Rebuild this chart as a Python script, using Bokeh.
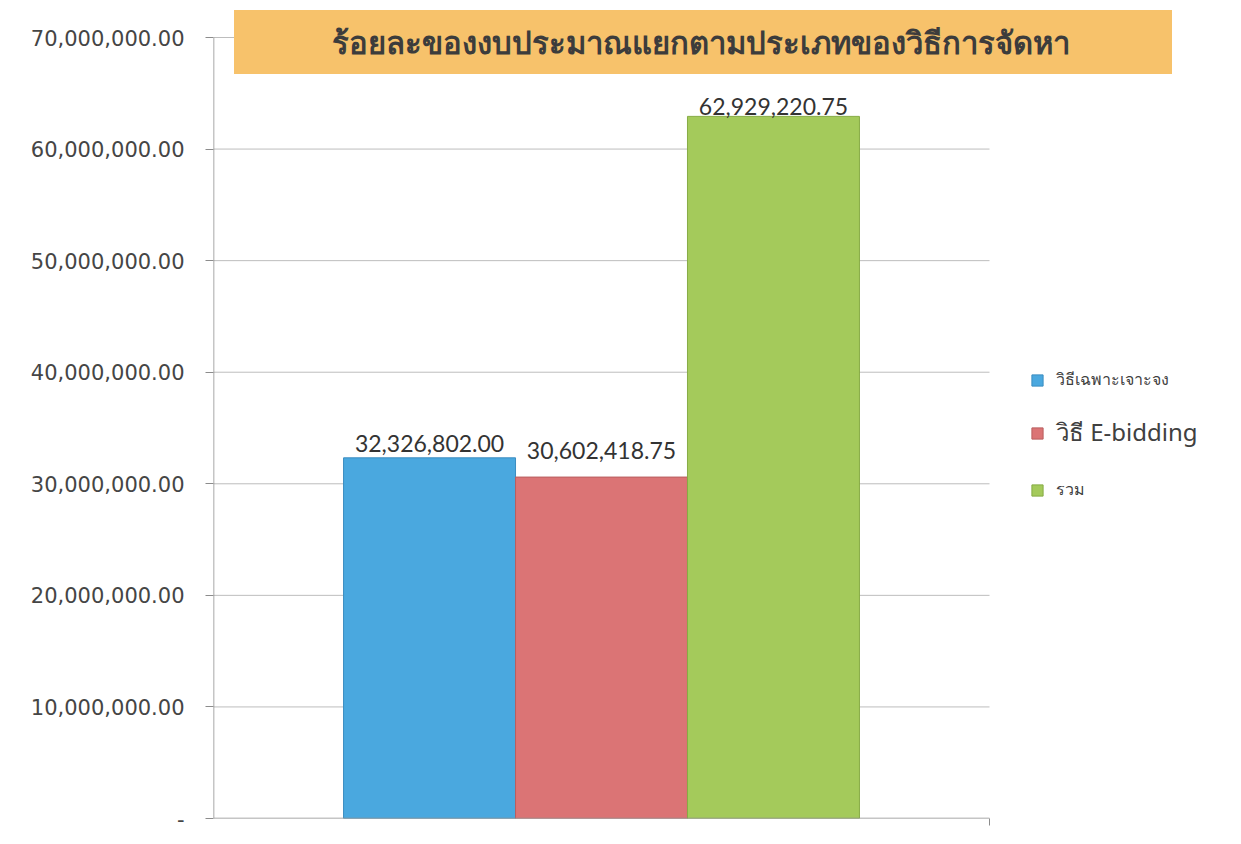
from bokeh.plotting import figure
from bokeh.models import (Range1d, FixedTicker, Label, Legend, LegendItem,
                          ColumnDataSource)
from bokeh.core.properties import value
from bokeh.embed import file_html
from bokeh.resources import INLINE

# ---- data ----
chart_title = "ร้อยละของงบประมาณแยกตามประเภทของวิธีการจัดหา"
series_names = ["วิธีเฉพาะเจาะจง", "วิธี E-bidding", "รวม"]
amounts = [32326802.00, 30602418.75, 62929220.75]
amount_labels = ["32,326,802.00", "30,602,418.75", "62,929,220.75"]
y_ticks = [0, 10000000, 20000000, 30000000, 40000000, 50000000, 60000000, 70000000]
y_tick_labels = ["-", "10,000,000.00", "20,000,000.00", "30,000,000.00",
                 "40,000,000.00", "50,000,000.00", "60,000,000.00", "70,000,000.00"]
y_max = 70000000

# ---- style / layout ----
bar_colors = ["#4aa8df", "#db7475", "#a4ca5b"]
bar_edges = ["#3b8dc0", "#b95e5f", "#86ab44"]
label_lift = [-14, -27, -10]
legend_font_sizes = ["16px", "24px", "16px"]
bar_width = 0.2216

W, H = 1233, 836
plot_left, plot_right, plot_top, plot_bottom = 213, 989, 37, 818   # axis area (px)
frame_left, frame_right, frame_top, frame_bottom = 213, 1230, 8, 818
x_end = (frame_right - frame_left) / (plot_right - plot_left)
y_end = y_max * (frame_bottom - frame_top) / (plot_bottom - plot_top)

p = figure(width=W, height=H, output_backend="svg", toolbar_location=None,
           x_range=Range1d(0, x_end), y_range=Range1d(0, y_end),
           min_border_left=frame_left, min_border_right=W - frame_right,
           min_border_top=frame_top, min_border_bottom=H - frame_bottom,
           background_fill_color="white", border_fill_color="white",
           outline_line_color=None)

# gridlines (only across the plot area)
grid_vals = [t for t in y_ticks if t > 0]
p.segment(x0=[0] * len(grid_vals), x1=[1] * len(grid_vals), y0=grid_vals, y1=grid_vals,
          line_color="#bdbdbd", line_width=1)

xs = [0.5 + (i - 1) * bar_width for i in range(len(amounts))]
src = ColumnDataSource(dict(x=xs, top=amounts, color=bar_colors, edge=bar_edges,
                            lab=amount_labels, lift=label_lift))
bars = p.vbar(x="x", top="top", width=bar_width, bottom=0, source=src,
              fill_color="color", line_color="edge", line_width=1)

# axis lines limited to plot area
p.segment(x0=[0], x1=[1], y0=[0], y1=[0], line_color="#8c8c8c", line_width=1.5)
p.segment(x0=[0], x1=[0], y0=[0], y1=[y_max], line_color="#8c8c8c", line_width=1.5)

p.text(x="x", y="top", text="lab", source=src, y_offset="lift",
       text_align="center", text_baseline="middle",
       text_font=value("Lato"), text_font_size="23px", text_color="#333333")

# axes
p.yaxis.ticker = FixedTicker(ticks=y_ticks)
p.yaxis.major_label_overrides = {t: l for t, l in zip(y_ticks, y_tick_labels)}
p.yaxis.major_label_text_font = "DejaVu Sans"
p.yaxis.major_label_text_font_size = "21px"
p.yaxis.major_label_text_color = "#454545"
p.yaxis.major_label_standoff = 21
p.yaxis.major_tick_out = 8
p.yaxis.major_tick_in = 0
p.yaxis.minor_tick_out = 0
p.yaxis.minor_tick_in = 0
p.yaxis.axis_line_color = None
p.yaxis.major_tick_line_color = "#8c8c8c"

p.xaxis.ticker = FixedTicker(ticks=[1])
p.xaxis.major_label_text_color = None
p.xaxis.major_label_standoff = 0
p.xaxis.major_tick_out = 7
p.xaxis.major_tick_in = 0
p.xaxis.minor_tick_out = 0
p.xaxis.axis_line_color = None
p.xaxis.major_tick_line_color = "#8c8c8c"

p.xgrid.grid_line_color = None
p.ygrid.grid_line_color = None

# title box
title_cx = (702.5 - plot_left) / (plot_right - plot_left)
title_cy = y_max * (plot_bottom - 41.5) / (plot_bottom - plot_top)
title = Label(x=title_cx, y=title_cy, text=chart_title, text_align="center",
              text_baseline="middle", text_font="Noto Sans",
              text_font_size="31px", text_font_style="bold",
              text_color="#3c3c3c", background_fill_color="#f7c26b",
              background_fill_alpha=1.0,
              padding=dict(left=98, right=102, top=11, bottom=11))
p.add_layout(title)

# legends (one per item so sizes can differ)
legend_locs = [(817, 426), (817, 366), (817, 316)]
legend_heights = [20, 28, 20]
for i, name in enumerate(series_names):
    lg = Legend(items=[LegendItem(label=name, renderers=[bars], index=i)],
                location=legend_locs[i], padding=0, margin=0,
                border_line_color=None, background_fill_alpha=0,
                glyph_width=14, glyph_height=14, label_standoff=12,
                label_height=legend_heights[i],
                label_text_font="Noto Sans",
                label_text_font_size=legend_font_sizes[i],
                label_text_color="#404040")
    p.add_layout(lg, "center")

open("out.html", "w").write(file_html(p, INLINE))
